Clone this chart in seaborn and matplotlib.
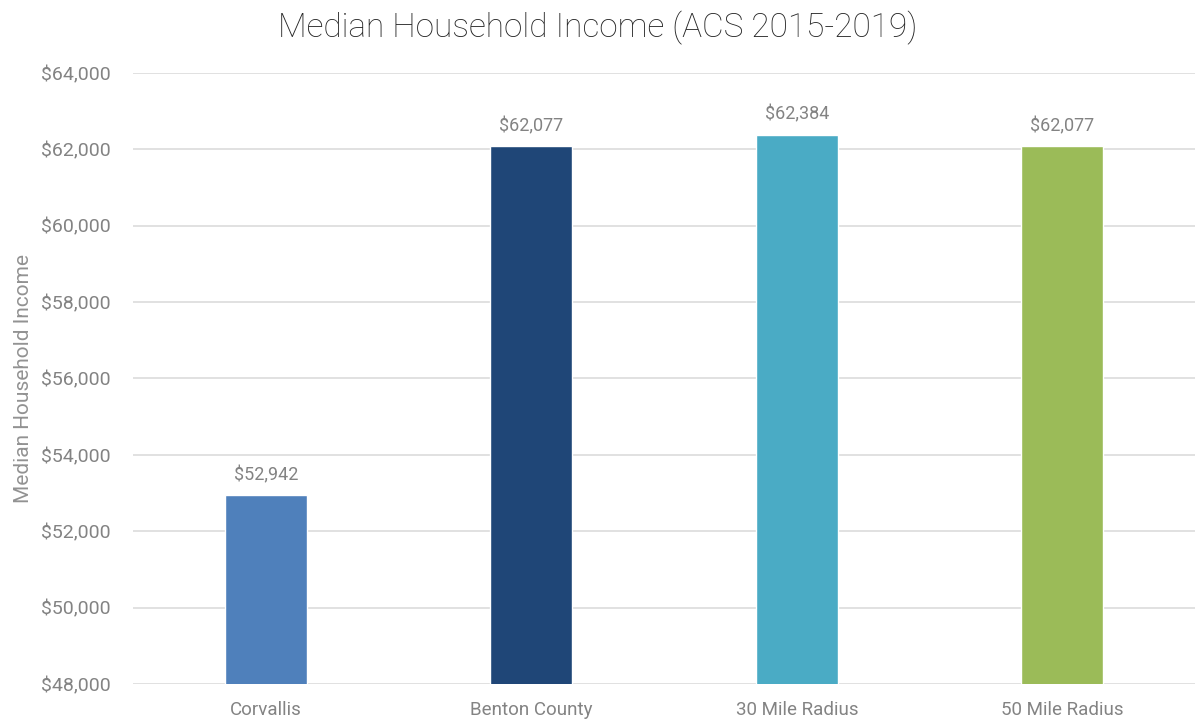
import matplotlib
matplotlib.use("Agg")
import matplotlib.pyplot as plt
import seaborn as sns
import pandas as pd
from matplotlib.ticker import FuncFormatter, MultipleLocator

categories = ["Corvallis", "Benton County", "30 Mile Radius", "50 Mile Radius"]
incomes = [52942, 62077, 62384, 62077]
bar_colors = ["#4f80bb", "#1f4677", "#4aabc5", "#9bbb58"]

df = pd.DataFrame({"area": categories, "income": incomes})

sns.set_theme(style="whitegrid")
plt.rcParams["font.family"] = ["Roboto", "DejaVu Sans"]

text_gray = "#838383"

fig = plt.figure(figsize=(11.95, 7.19), dpi=100)
ax = fig.add_axes([0.1113, 0.0487, 0.8887, 0.8498])

sns.barplot(data=df, x="area", y="income", hue="area", palette=bar_colors,
            width=0.31, legend=False, ax=ax, saturation=1)

ax.set_ylim(48000, 64000)
ax.set_xlim(-0.5, 3.5)
ax.yaxis.set_major_locator(MultipleLocator(2000))
ax.yaxis.set_major_formatter(FuncFormatter(lambda v, p: f"${v:,.0f}"))

ax.grid(axis="y", color="#dcdcdc", linewidth=1.2)
ax.grid(axis="x", visible=False)
ax.set_axisbelow(True)
for s in ax.spines.values():
    s.set_visible(False)

ax.tick_params(axis="y", labelsize=14, labelcolor=text_gray, length=0, pad=16)
ax.tick_params(axis="x", labelsize=13.5, labelcolor=text_gray, length=0, pad=12)

ax.set_xlabel("")
ax.set_ylabel("Median Household Income", fontsize=15, color="#929292",
              labelpad=6)

for container in ax.containers:
    ax.bar_label(container, labels=[f"${v:,.0f}" for v in container.datavalues],
                 padding=8, fontsize=13, color=text_gray)

fig.suptitle("Median Household Income (ACS 2015-2019)", x=0.5, y=0.985,
             fontsize=24, color="#262626", fontweight="light")

fig.savefig("out.png", dpi=100, facecolor="white")
